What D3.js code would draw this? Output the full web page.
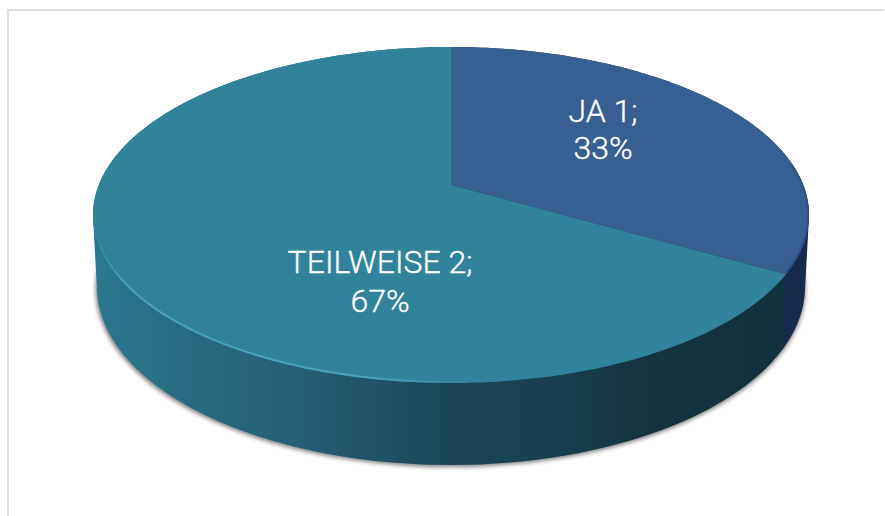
<!DOCTYPE html>
<html><head><meta charset="utf-8">
<script src="https://cdn.jsdelivr.net/npm/d3@7"></script>
<style>html,body{margin:0;padding:0;background:#fff}svg{display:block}text{font-family:Roboto,sans-serif;fill:#fff}</style>
</head><body><svg id="c" width="885" height="516"></svg>
<script>
const categories = ["JA", "TEILWEISE"];
const values = [1, 2];
const percents = ["33%", "67%"];
const topColors = ["#375f91", "#30839b"];

const svg = d3.select("#c");
const defs = svg.append("defs");
const W = 885, H = 516;
svg.append("path").attr("fill","none").attr("stroke","#dedede").attr("stroke-width",2)
  .attr("d",`M8,${H}V10H${W-1}`);

const topE = {cx:451, cy:215, rx:358, ry:168};
const botE = {cx:451, cy:287, rx:354, ry:178};
const k = 30/168; // perspective: pie centre sits above the ellipse centre
function proj(e, a){
  const x = Math.sin(a), y = Math.cos(a), d = 1 + k*y;
  return [e.cx + e.rx*x*Math.sqrt(1-k*k)/d, e.cy - e.ry*(y+k)/d];
}
const pie = d3.pie().sort(null).value(d=>d);
const arcs = pie(values);
const line = d3.line();
function arcPts(e,a0,a1){ return d3.range(0,121).map(i=>proj(e,a0+(a1-a0)*i/120)); }
const apex = [topE.cx, topE.cy - topE.ry*k];
const deg = Math.PI/180;

const wallScale = d3.scaleLinear().domain([93,200,300,450,550,640,809]).range(["#2b7890","#276a7e","#245f72","#1b4758","#193f4f","#14343f","#12303b"]);
const g = defs.append("linearGradient").attr("id","wall").attr("gradientUnits","userSpaceOnUse").attr("x1",93).attr("x2",809).attr("y1",0).attr("y2",0);
wallScale.domain().forEach(v=>g.append("stop").attr("offset",(v-93)/716).attr("stop-color",wallScale(v)));
const wallFill = ["#172a4c","url(#wall)"];

defs.append("filter").attr("id","sh").attr("x","-5%").attr("y","-5%").attr("width","110%").attr("height","110%")
  .append("feGaussianBlur").attr("stdDeviation",2.2);
svg.append("ellipse").attr("cx",botE.cx-0.5).attr("cy",botE.cy+2).attr("rx",botE.rx+1).attr("ry",botE.ry)
  .attr("fill","#555").attr("opacity",.75).attr("filter","url(#sh)");

// walls: hull of the slice's top and bottom arcs, so the silhouette runs tangent between them
svg.selectAll(".wall").data(arcs).join("path").attr("class","wall")
  .attr("fill",(d,i)=>wallFill[i])
  .attr("d",d=>line(d3.polygonHull(arcPts(topE,d.startAngle,d.endAngle).concat(arcPts(botE,d.startAngle,d.endAngle))))+"Z");
// top faces
svg.selectAll(".face").data(arcs).join("path").attr("class","face")
  .attr("fill",(d,i)=>topColors[i])
  .attr("d",d=>line([apex].concat(arcPts(topE,d.startAngle,d.endAngle)))+"Z");
// bevel highlight along the lower-left rim
const rim = defs.append("linearGradient").attr("id","rim").attr("gradientUnits","userSpaceOnUse").attr("x1",95).attr("x2",480).attr("y1",0).attr("y2",0);
[[0,"#30839b"],[.08,"#4aa2b9"],[.7,"#4aa2b9"],[1,"#30839b"]].forEach(s=>rim.append("stop").attr("offset",s[0]).attr("stop-color",s[1]));
defs.append("filter").attr("id","soft").append("feGaussianBlur").attr("stdDeviation",0.6);
svg.append("path").attr("fill","none").attr("stroke","url(#rim)").attr("stroke-width",2).attr("filter","url(#soft)")
  .attr("d",line(arcPts({...topE,rx:topE.rx-1,ry:topE.ry-1},178*deg,262*deg)));
// soft dark edge on the right of the blue slice
svg.append("path").attr("fill","none").attr("stroke","#2f5280").attr("stroke-width",2).attr("filter","url(#soft)")
  .attr("d",line(arcPts({...topE,rx:topE.rx-1,ry:topE.ry-1},82*deg,arcs[0].endAngle)));

// labels
const labels = [
  {lines:[categories[0]+" "+values[0]+";",percents[0]], x:603, y:[122,159]},
  {lines:[categories[1]+" "+values[1]+";",percents[1]], x:380, y:[273,312]}
];
labels.forEach(l=>l.lines.forEach((t,i)=>{
  svg.append("text").attr("x",l.x).attr("y",l.y[i]).attr("text-anchor","middle").attr("font-size",32).attr("font-weight",300)
    .attr("stroke","#fff").attr("stroke-width",0.35).text(t);
}));
</script></body></html>
